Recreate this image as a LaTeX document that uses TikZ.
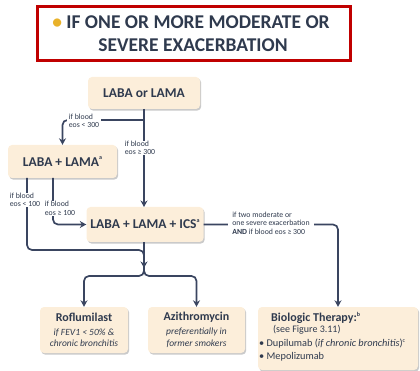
\documentclass[tikz,border=0pt]{standalone}
\usepackage{fontspec}
\setmainfont{Carlito}
\usetikzlibrary{arrows.meta,shadows}
\definecolor{ink}{HTML}{2F3A4E}
\definecolor{wirec}{HTML}{3A4560}
\definecolor{boxfill}{HTML}{FCEEDA}
\definecolor{titlered}{HTML}{C00000}
\definecolor{gold}{HTML}{E9B22A}
\newcommand{\supx}[1]{\raisebox{0.45em}{\fontsize{6}{6}\selectfont #1}}
\begin{document}
\begin{tikzpicture}[x=1pt,y=-1pt,
  box/.style={fill=boxfill, rounded corners=4pt, inner sep=0pt, text=ink, align=center,
    drop shadow={shadow xshift=1.2pt, shadow yshift=-1.6pt, opacity=0.35, fill=black!60}},
  boxtext/.style={font=\fontsize{13.5}{15}\selectfont\bfseries},
  wire/.style={draw=wirec, line width=1.7pt, rounded corners=5pt},
  arr/.style={-{Stealth[length=6.5pt,width=7pt]}},
  lbl/.style={fill=white, inner xsep=2pt, inner ysep=0.5pt, text=ink, align=left,
    font=\fontsize{7.8}{8.4}\selectfont},
  bl/.style={anchor=west, inner sep=0pt, text=ink}]
\useasboundingbox (0,0) rectangle (420,371);
% title
\node[draw=titlered, line width=3pt, minimum width=313pt, minimum height=54pt] (title) at (194,33.5) {};
\node[text=ink, font=\fontsize{19.5}{21}\selectfont\bfseries, inner sep=0pt] (t1) at (191,22) {\textcolor{gold}{\textbullet} IF ONE OR MORE MODERATE OR};
\node[text=ink, font=\fontsize{19.5}{21}\selectfont\bfseries, inner sep=0pt] (t2) at (193,45) {SEVERE EXACERBATION};
% boxes
\node[box, boxtext, minimum width=112pt, minimum height=32pt] (lalm) at (144,93) {LABA or LAMA};
\node[box, boxtext, minimum width=109pt, minimum height=33pt] (ll) at (62.5,161.5) {LABA + LAMA\supx{a}};
\node[box, boxtext, minimum width=117pt, minimum height=35pt] (lli) at (145,224.5) {LABA + LAMA + ICS\supx{a}};
\node[box, minimum width=88pt, minimum height=46pt] (rof) at (84,330) {{\fontsize{12}{13}\selectfont\bfseries Roflumilast}\\[2pt]
  {\fontsize{9.5}{11}\selectfont\itshape if FEV1 < 50\% \&}\\[-0.5pt]{\fontsize{9.5}{11}\selectfont\itshape chronic bronchitis}};
\node[box, minimum width=97pt, minimum height=46pt] (azi) at (196.5,330) {{\fontsize{12}{13}\selectfont\bfseries Azithromycin}\\[2pt]
  {\fontsize{9.5}{11}\selectfont\itshape preferentially in}\\[-0.5pt]{\fontsize{9.5}{11}\selectfont\itshape former smokers}};
\node[box, minimum width=160pt, minimum height=63pt] (bio) at (338,338.5) {};
\node[bl, font=\fontsize{12}{13}\selectfont\bfseries] (bio1) at (271,318) {Biologic Therapy:\supx{b}};
\node[bl, font=\fontsize{10}{12}\selectfont] (bio2) at (273,330) {(see Figure 3.11)};
\node[bl, font=\fontsize{10.3}{12}\selectfont] (bio3) at (259,344) {\textbullet\ Dupilumab (\textit{if chronic bronchitis})\supx{c}};
\node[bl, font=\fontsize{10.3}{12}\selectfont] (bio4) at (259,357) {\textbullet\ Mepolizumab};
% coordinates
\coordinate (b1) at (144,120);
\coordinate (b1l) at (62.5,120);
\coordinate (l1) at (27,178);
\coordinate (l1b) at (27,250);
\coordinate (l1c) at (144,250);
\coordinate (l1d) at (144,262);
\coordinate (l2) at (53,178);
\coordinate (l2b) at (53,224.5);
\coordinate (m1) at (144,109);
\coordinate (m2) at (144,207);
\coordinate (m3) at (144,242);
\coordinate (j) at (144,268);
\coordinate (f0) at (144,265);
\coordinate (fl) at (84,276);
\coordinate (fr) at (196.5,276);
\coordinate (fm) at (144,276);
\coordinate (r1) at (338,224.5);
% connectors
\draw[wire, arr] (m1) -- (m2);
\draw[wire, arr] (b1) -- (b1l) -- (ll.north);
\draw[wire] (l1) -- (l1b) -- (l1c) -- (l1d);
\draw[wire, arr] (l2) -- (l2b) -- (lli.west);
\draw[wire, arr] (m3) -- (j);
\draw[wire, arr] (f0) -- (fm) -- (fl) -- (rof.north);
\draw[wire, arr] (f0) -- (fm) -- (fr) -- (azi.north);
\draw[wire, arr] (lli.east) -- (r1) -- (bio.north);
% labels
\node[lbl] (q1) at (84,121) {if blood\\eos < 300};
\node[lbl] (q2) at (140,148) {if blood\\eos ≥ 300};
\node[lbl] (q3) at (25,200) {if blood\\eos < 100};
\node[lbl] (q4) at (60,208.5) {if blood\\eos ≥ 100};
\node[lbl, inner xsep=4pt] (q5) at (271,223) {if two moderate or\\one severe exacerbation\\\textbf{AND} if blood eos ≥ 300};
\end{tikzpicture}
\end{document}
